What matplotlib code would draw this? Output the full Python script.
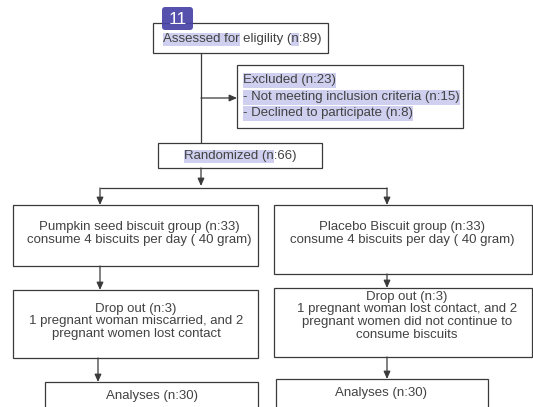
import matplotlib
matplotlib.use("Agg")
import matplotlib.pyplot as plt
from matplotlib.patches import Rectangle, FancyBboxPatch

W, H = 533, 407
plt.rcParams['font.family'] = ['Liberation Sans', 'DejaVu Sans']

# ---- content ----
badge_label = "11"
assessed_text = "Assessed for eligility (n:89)"
excluded_lines = ["Excluded (n:23)",
                  "- Not meeting inclusion criteria (n:15)",
                  "- Declined to participate (n:8)"]
randomized_text = "Randomized (n:66)"
group_left = ["Pumpkin seed biscuit group (n:33)",
              "consume 4 biscuits per day ( 40 gram)"]
group_right = ["Placebo Biscuit group (n:33)",
               "consume 4 biscuits per day ( 40 gram)"]
drop_left = ["Drop out (n:3)",
             "1 pregnant woman miscarried, and 2",
             "pregnant women lost contact"]
drop_right = ["Drop out (n:3)",
              "1 pregnant woman lost contact, and 2",
              "pregnant women did not continue to",
              "consume biscuits"]
analyses_left = "Analyses (n:30)"
analyses_right = "Analyses (n:30)"

fig = plt.figure(figsize=(W / 100, H / 100), dpi=100)
ax = fig.add_axes([0, 0, 1, 1])
ax.set_xlim(0, W)
ax.set_ylim(H, 0)
ax.axis('off')

LC = '#3a3a3a'
TC = '#424242'
HL = '#cfcfef'
FS = 9.5
LW = 0.9

def box(x0, y0, x1, y1):
    ax.add_patch(Rectangle((x0, y0), x1 - x0, y1 - y0, fill=True, facecolor='white',
                           edgecolor=LC, lw=LW, zorder=2))

def line(xs, ys):
    ax.plot(xs, ys, color=LC, lw=LW, zorder=1, solid_capstyle='butt')

def arrow(x0, y0, x1, y1):
    ax.annotate('', xy=(x1, y1), xytext=(x0, y0),
                arrowprops=dict(arrowstyle='-|>,head_length=0.45,head_width=0.2',
                                color=LC, lw=LW, shrinkA=0, shrinkB=0), zorder=3)

renderer = fig.canvas.get_renderer()

def text_width(s):
    t = ax.text(0, 0, s, fontsize=FS)
    bb = t.get_window_extent(renderer)
    t.remove()
    return bb.width

def highlight(x_left, y, s, i0, i1, h=13):
    xa = x_left + (text_width(s[:i0]) if i0 > 0 else 0)
    xb = x_left + text_width(s[:i1])
    ax.add_patch(Rectangle((xa, y - h / 2), xb - xa, h, facecolor=HL,
                           edgecolor='none', zorder=2.5))

def ctext(x, y, s):
    ax.text(x, y, s, fontsize=FS, color=TC, ha='center', va='center', zorder=4)

def ltext(x, y, s):
    ax.text(x, y, s, fontsize=FS, color=TC, ha='left', va='center', zorder=4)

# connectors
line([201, 201], [53, 143])
arrow(201, 98, 237, 98)
arrow(201, 168, 201, 186)
line([100, 387], [188, 188])
arrow(100, 188, 100, 205)
arrow(387, 188, 387, 205)
arrow(100, 266, 100, 290)
arrow(387, 274, 387, 288)
arrow(98, 358, 98, 382)
arrow(387, 357, 387, 379)

# boxes
box(153, 23, 328, 53)
box(237, 65, 463, 128)
box(158, 143, 322, 168)
box(13, 205, 258, 266)
box(274, 205, 532, 274)
box(13, 290, 258, 358)
box(274, 288, 532, 357)
box(45, 382, 258, 420)
box(276, 379, 488, 420)

# box 1
highlight(163, 39, assessed_text, 0, 12)
i = assessed_text.index('(n') + 1
highlight(163, 39, assessed_text, i, i + 1)
ltext(163, 39, assessed_text)

# excluded
for k, (s, y) in enumerate(zip(excluded_lines, [80, 97, 113])):
    highlight(243, y, s, 0, len(s), h=15)
    ltext(243, y, s)

# randomized
rw = text_width(randomized_text)
rx = 240 - rw / 2
j = randomized_text.index('(n') + 2
highlight(rx, 156, randomized_text, 0, j)
ltext(rx, 156, randomized_text)

for s, y in zip(group_left, [227, 240]):
    ctext(139, y, s)
for s, y in zip(group_right, [227, 240]):
    ctext(402, y, s)
for s, y in zip(drop_left, [309, 321, 334]):
    ctext(136, y, s)
for s, y in zip(drop_right, [297, 309, 322, 335]):
    ctext(407, y, s)
ctext(152, 396, analyses_left)
ctext(381, 393, analyses_right)

# badge
ax.add_patch(FancyBboxPatch((162, 7), 31, 23, boxstyle='round,pad=0,rounding_size=3',
                            facecolor='#4a44a8', edgecolor='none', alpha=0.93, zorder=5))
ax.text(177.5, 19, badge_label, fontsize=12.5, color='white', ha='center', va='center', zorder=6)

fig.savefig('out.png', dpi=100)
